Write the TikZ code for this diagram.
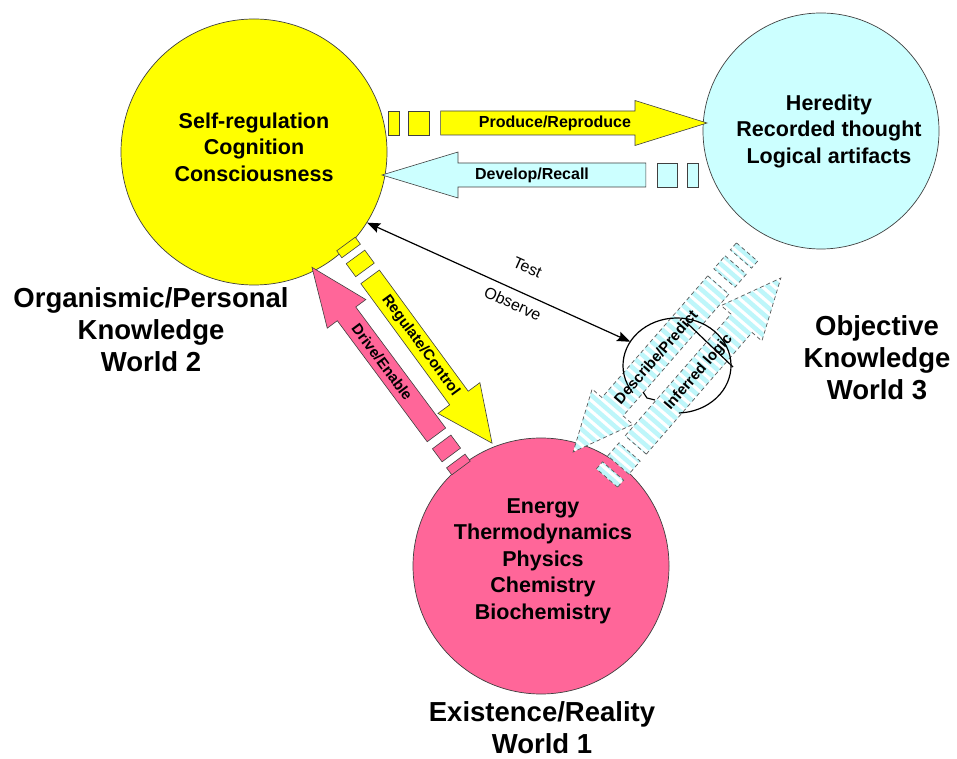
\documentclass[tikz,border=0pt]{standalone}
\usepackage{fontspec}
\setmainfont{Liberation Sans}
\usetikzlibrary{arrows.meta,calc}

\definecolor{wyellow}{RGB}{255,255,0}
\definecolor{wcyan}{RGB}{204,255,255}
\definecolor{wpink}{RGB}{255,102,153}
\definecolor{hatchcyan}{RGB}{190,246,250}

% cross stripes for the dashed arrows, in the arrow's own frame
\newcommand\crossstripes{%
  \foreach \hx in {0,8,...,320}{\fill[hatchcyan] (\hx,-40) rectangle ++(4.5,80);}}

\tikzset{
  world/.style={circle, draw=black!75, line width=0.7pt, inner sep=0pt},
  worldtext/.style={font=\fontsize{21.5}{26.5}\selectfont\bfseries, align=center},
  worldlabel/.style={font=\fontsize{27.5}{32}\selectfont\bfseries, align=center},
  arrowlabel/.style={inner sep=0pt},
  yellowpart/.style={fill=wyellow, draw=black!75, line width=0.6pt},
  cyanpart/.style={fill=wcyan, draw=black!75, line width=0.6pt},
  pinkpart/.style={fill=wpink, draw=black!75, line width=0.6pt},
  hatchpart/.style={fill=white, path picture={\crossstripes},
    draw=black!65, line width=0.7pt, dash pattern=on 4pt off 3pt},
  loopline/.style={draw=black, line width=1.2pt},
  linkline/.style={draw=black, line width=1.2pt,
    {Stealth[length=13pt,width=10pt,inset=2pt]}-{Stealth[length=13pt,width=10pt,inset=2pt]}},
  linktext/.style={font=\fontsize{16}{18}\selectfont, sloped, inner sep=0pt}
}

% striped block arrow: stubs at the tail, shaft, then a triangular head
\pgfkeys{/barrow/.cd,
  from/.store in=\baPos, angle/.store in=\baAng, len/.store in=\baL,
  head/.store in=\baH, shaft/.store in=\baS, wide/.store in=\baW,
  tpos/.store in=\baT, turn/.store in=\baTurn, text/.store in=\baText,
  size/.store in=\baSize,
  paint/.code={\tikzset{bapaint/.style={#1}}}}
\newcommand\barrow[1]{%
  \begingroup
  \pgfkeys{/barrow/.cd, turn=0, size=15, #1}%
  \begin{scope}[shift={(\baPos)}, rotate=\baAng]
    \path[bapaint] (0,-\baS) rectangle ({0.035*\baL},\baS);
    \path[bapaint] ({0.065*\baL},-\baS) rectangle ({0.13*\baL},\baS);
    \path[bapaint] ({0.165*\baL},-\baS) -- ({\baL-\baH},-\baS) -- ({\baL-\baH},-\baW)
      -- (\baL,0) -- ({\baL-\baH},\baW) -- ({\baL-\baH},\baS) -- ({0.165*\baL},\baS) -- cycle;
    \node[arrowlabel, transform shape, rotate=\baTurn,
      font=\fontsize{\baSize}{\baSize}\selectfont\bfseries] at (\baT,0) {\baText};
  \end{scope}
  \endgroup}

\begin{document}
\begin{tikzpicture}[x=1pt, y=1pt]
\useasboundingbox (0,0) rectangle (957,758);
\fill[white] (0,0) rectangle (957,758);

% the three worlds
\node[world, fill=wyellow, minimum size=266pt] (w2) at (254,606) {};
\node[world, fill=wcyan, minimum size=236pt] (w3) at (821,627) {};
\node[world, fill=wpink, minimum size=256pt] (w1) at (541,192) {};

\node[worldtext] (w2text) at (254,611) {Self-regulation\\Cognition\\Consciousness};
\node[worldtext] (w3text) at (829,627) {Heredity\\Recorded thought\\Logical artifacts};
\node[worldtext] (w1text) at (543,197) {Energy\\Thermodynamics\\Physics\\Chemistry\\Biochemistry};

\node[worldlabel] (w2label) at (151,428) {Organismic/Personal\\Knowledge\\World 2};
\node[worldlabel] (w3label) at (877,400) {Objective\\Knowledge\\World 3};
\node[worldlabel] (w1label) at (542,30) {Existence/Reality\\World 1};

% World 2 <-> World 3
\barrow{from={388,635}, angle=0, len=319, head=72, shaft=12, wide=22.5,
  tpos=167, size=16, paint=yellowpart, text=Produce/Reproduce}
\barrow{from={698,583}, angle=180, len=316, head=76, shaft=12, wide=23,
  tpos=166, turn=180, size=16, paint=cyanpart, text=Develop/Recall}

% World 2 <-> World 1
\barrow{from={346,514}, angle=-53.75, len=247, head=56, shaft=11.5, wide=26,
  tpos=126, paint=yellowpart, text=Regulate/Control}
\barrow{from={461,290}, angle=126.6, len=250, head=58, shaft=11.5, wide=24,
  tpos=132, turn=180, paint=pinkpart, text=Drive/Enable}

% World 3 <-> World 1
\barrow{from={747,506}, angle=229, len=265, head=60, shaft=14, wide=27,
  tpos=139, turn=180, paint=hatchpart, text=Describe/Predict}
\barrow{from={607,280}, angle=49, len=265, head=60, shaft=14, wide=27,
  tpos=140, paint=hatchpart, text=Inferred logic}

% feedback loop
\coordinate (loopc) at (677,392.5);
\coordinate (looptip) at ($(loopc)+(150:54 and 47.5)$);
\draw[loopline] ($(loopc)+(215:54 and 47.5)$)
  arc[start angle=215, end angle=-88, x radius=54, y radius=47.5];
\draw[loopline] (643,366) -- (647,360) -- (655,358);
\draw[loopline] (687,435) -- (733,391);

% Test / Observe
\draw[linkline] (w2.-32) -- node[linktext, above=19pt, pos=0.57] {Test}
  node[linktext, below=7pt, pos=0.575] {Observe} (looptip);
\end{tikzpicture}
\end{document}
